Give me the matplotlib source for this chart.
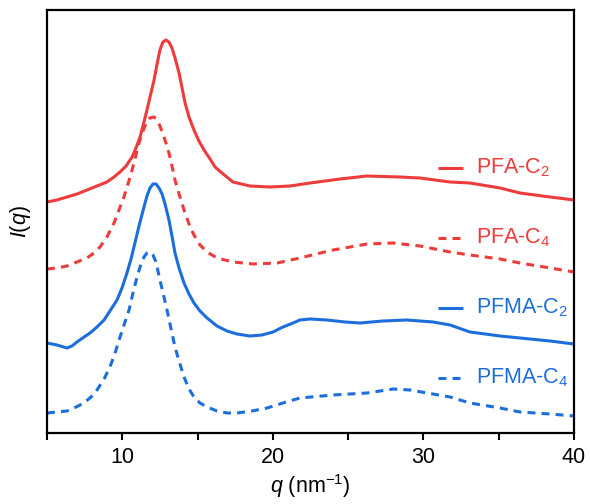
import matplotlib
matplotlib.use("Agg")
import matplotlib.pyplot as plt
from matplotlib.ticker import MultipleLocator

plt.rcParams['font.family'] = ['Liberation Sans', 'DejaVu Sans']
plt.rcParams['mathtext.fontset'] = 'custom'
plt.rcParams['mathtext.rm'] = 'Liberation Sans'
plt.rcParams['mathtext.it'] = 'Liberation Sans:italic'

# q (nm^-1) and intensities (arbitrary, offset units)
q_pfa_c2 = [5.00, 5.66, 6.33, 6.99, 7.66, 8.32, 8.98, 9.45, 9.85, 10.25, 10.65, 10.91, 11.18,
            11.44, 11.64, 11.84, 12.11, 12.31, 12.50, 12.70, 12.90, 13.10, 13.30, 13.50, 13.77,
            13.97, 14.17, 14.43, 14.76, 15.09, 15.43, 15.83, 16.16, 16.62, 17.35, 18.48, 19.81,
            21.14, 22.47, 24.46, 26.25, 28.44, 29.77, 31.77, 33.09, 35.09, 36.41, 38.41, 40.00]
i_pfa_c2 = [231, 233, 236, 239, 243, 247, 251, 256, 261, 267, 276, 285, 296,
            311, 323, 336, 353, 369, 383, 391, 393, 391, 385, 375, 360,
            345, 330, 316, 303, 292, 283, 274, 266, 260, 251, 247, 246,
            247, 250, 254, 257, 256, 255, 251, 250, 245, 240, 236, 233]

q_pfa_c4 = [5.00, 5.66, 6.33, 6.99, 7.66, 8.12, 8.52, 8.98, 9.45, 9.78, 10.11, 10.38, 10.65,
            10.91, 11.11, 11.38, 11.64, 11.84, 12.11, 12.31, 12.50, 12.70, 12.90, 13.10, 13.30,
            13.50, 13.77, 14.10, 14.43, 14.76, 15.16, 15.63, 16.29, 17.35, 18.68, 20.28, 21.80,
            23.99, 26.25, 27.98, 29.77, 31.77, 33.09, 35.09, 36.41, 38.41, 40.00]
i_pfa_c4 = [164, 165, 167, 171, 175, 180, 186, 196, 210, 223, 236, 249, 263,
            278, 290, 302, 312, 315, 316, 313, 307, 299, 290, 280, 267,
            253, 239, 223, 209, 198, 188, 181, 175, 171, 169, 170, 175,
            183, 189, 190, 187, 181, 178, 174, 170, 165, 161]

q_pfma_c2 = [5.00, 5.66, 6.33, 6.66, 6.99, 7.46, 7.86, 8.32, 8.79, 9.18, 9.65, 9.98, 10.31,
             10.58, 10.84, 11.11, 11.44, 11.64, 11.84, 12.04, 12.24, 12.44, 12.64, 12.84, 13.10,
             13.30, 13.50, 13.77, 14.10, 14.43, 14.76, 15.16, 15.63, 16.29, 16.95, 17.62, 18.48,
             19.28, 20.01, 20.67, 21.34, 21.80, 22.47, 23.60, 24.79, 25.79, 27.31, 28.91, 30.64,
             31.77, 33.09, 35.09, 36.41, 38.41, 40.00]
i_pfma_c2 = [90, 88, 85, 87, 91, 96, 100, 106, 113, 122, 133, 145, 160,
             174, 190, 207, 226, 237, 245, 249, 249, 245, 239, 229, 213,
             197, 180, 165, 150, 139, 130, 122, 115, 107, 102, 99, 97,
             98, 101, 106, 110, 113, 114, 113, 111, 110, 112, 113, 111,
             108, 101, 97, 95, 92, 89]

q_pfma_c4 = [5.00, 5.66, 6.33, 6.93, 7.46, 7.92, 8.32, 8.79, 9.18, 9.52, 9.85, 10.18, 10.45,
             10.71, 10.98, 11.24, 11.44, 11.64, 11.84, 12.04, 12.24, 12.50, 12.77, 12.97, 13.24,
             13.50, 13.83, 14.10, 14.43, 14.76, 15.16, 15.63, 16.29, 16.95, 17.62, 18.61, 19.61,
             20.67, 21.80, 23.99, 26.25, 27.98, 29.11, 30.24, 31.77, 33.09, 35.09, 36.41, 38.41,
             40.00]
i_pfma_c4 = [20, 21, 22, 26, 30, 36, 43, 54, 66, 80, 96, 111, 123,
             140, 156, 169, 176, 180, 181, 178, 171, 153, 136, 123, 104,
             86, 69, 56, 44, 36, 30, 26, 22, 20, 20, 22, 25,
             30, 35, 38, 40, 44, 43, 40, 36, 30, 25, 21, 19,
             17]

labels = ['PFA-C$_2$', 'PFA-C$_4$', 'PFMA-C$_2$', 'PFMA-C$_4$']
red = '#EE3B3B'
blue = '#1C6EDC'
dash = (0, (2.6, 2.0))

fig = plt.figure(figsize=(5.9, 5.04), dpi=100)
ax = fig.add_axes([47/590, 1-433/504, 527/590, 423/504])

series = [
    (q_pfa_c2, i_pfa_c2, red, '-'),
    (q_pfa_c4, i_pfa_c4, red, dash),
    (q_pfma_c2, i_pfma_c2, blue, '-'),
    (q_pfma_c4, i_pfma_c4, blue, dash),
]
lw = 2.2
for (q, i, c, ls) in series:
    ax.plot(q, i, color=c, linestyle=ls, lw=lw, solid_capstyle='butt',
            dash_capstyle='butt', solid_joinstyle='round', dash_joinstyle='round')

ax.set_xlim(5, 40)
ax.set_ylim(0, 423)

# legend drawn as manual entries in data coords
leg_y = [265, 195, 125, 55]
for (q, i, c, ls), lab, yy in zip(series, labels, leg_y):
    ax.plot([31.0, 32.6], [yy, yy], color=c, linestyle=ls, lw=lw, solid_capstyle='butt',
            dash_capstyle='butt')
    ax.text(33.5, yy, lab, color=c, fontsize=15.5, va='center', ha='left')

ax.xaxis.set_major_locator(MultipleLocator(10))
ax.xaxis.set_minor_locator(MultipleLocator(5))
ax.set_yticks([])
ax.tick_params(axis='x', which='major', direction='out', length=5, width=1.5,
               labelsize=15.5, pad=5)
ax.tick_params(axis='x', which='minor', direction='out', length=5, width=1.5)
for s in ax.spines.values():
    s.set_linewidth(1.6)

ax.set_xlabel('$q$ (nm$^{-1}$)', fontsize=15.5, labelpad=3)
ax.set_ylabel('$I$($q$)', fontsize=15.5, labelpad=10)

fig.savefig('out.png', dpi=100)
